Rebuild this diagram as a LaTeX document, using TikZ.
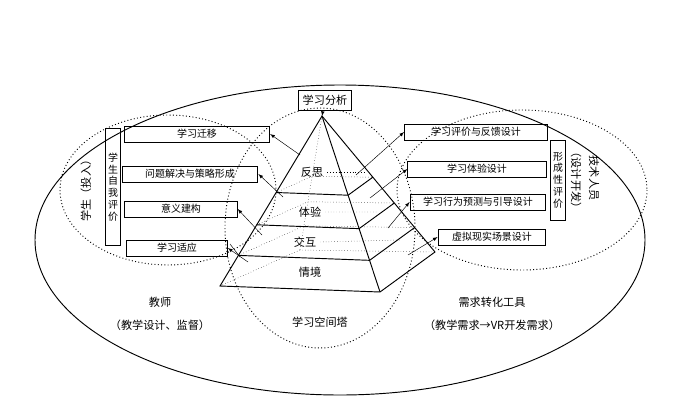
\documentclass[tikz,border=0pt]{standalone}
\usepackage{fontspec}
\setmainfont{Noto Sans CJK SC}
\usetikzlibrary{positioning,calc}
\tikzset{
        % boxes beside the tower
        stagebox/.style={draw, thick, inner sep=2pt, minimum height=0.48cm, font=\fontsize{8.5}{9}\selectfont},
        % vertical boxes
        evalbox/.style={draw, thick, align=center, inner sep=2pt, font=\fontsize{8.5}{10}\selectfont},
        % plain labels
        lbl/.style={font=\fontsize{9.5}{10}\selectfont, align=center},
        ring/.style={dotted, thick},
        pointer/.style={-latex}
}
\begin{document}
\begin{tikzpicture}[x=0.03cm, y=-0.03cm]
\useasboundingbox (0,0) rectangle (674,414);
% outer and dotted rings
\draw[thick] (340,240) ellipse [x radius=305, y radius=155];
\draw[ring] (168,190) ellipse [x radius=108, y radius=75];
\draw[ring] (522,190) ellipse [x radius=125, y radius=80];
\draw[ring] (320,228) ellipse [x radius=95, y radius=120];
% tower
\coordinate (apex) at (322,116);
\coordinate (fl) at (220,286);
\coordinate (fr) at (380,292);
\coordinate (br) at (435,252);
\coordinate (bl) at (300,250);
\draw[thick] (apex) -- (fl) -- (fr) -- (br) -- cycle;
\draw[thick] (apex) -- (fr);
\draw[dotted] (apex) -- (bl) (fl) -- (bl) -- (br);
\foreach \t in {0.45,0.64,0.82} {
  \draw[thick] ($(apex)!\t!(fl)$) -- ($(apex)!\t!(fr)$) -- ($(apex)!\t!(br)$);
  \draw[dotted] ($(apex)!\t!(fl)$) -- ($(apex)!\t!(bl)$) -- ($(apex)!\t!(br)$);
}
\node[lbl] (fansi) at (312,172) {反思};
\node[lbl] (tiyan) at (310,212) {体验};
\node[lbl] (jiaohu) at (305,242) {交互};
\node[lbl] (qingjing) at (310,272) {情境};
\node[draw, thick, lbl, minimum height=0.6cm] (fenxi) at (325,100) {学习分析};
\draw[pointer] (fenxi) -- (apex);
\node[lbl] (tower) at (320,322) {学习空间塔};
% left side
\node[stagebox] (qianyi) at (197,134) {\makebox[120pt]{学习迁移}};
\node[stagebox] (wenti) at (190,174) {\makebox[112pt]{问题解决与策略形成}};
\node[stagebox] (yiyi) at (181,209) {\makebox[92pt]{意义建构}};
\node[stagebox] (shiying) at (177,248) {\makebox[82pt]{学习适应}};
\node[evalbox, minimum height=3.5cm] (ziwo) at (113,187) {学\\生\\自\\我\\评\\价};
\node[lbl, rotate=90] (xuesheng) at (86,188) {学生（投入）};
\draw[pointer] (300,155) -- (qianyi.east);
\draw[pointer] (283,197) -- (wenti.east);
\draw[pointer] (262,235) -- (yiyi.east);
\draw[pointer] (248,262) -- (shiying.east);
\draw (240,257) -- (230,244);
% right side
\node[stagebox] (pingjia) at (476,132) {\makebox[118pt]{学习评价与反馈设计}};
\node[stagebox] (tiyansj) at (477,169) {\makebox[114pt]{学习体验设计}};
\node[stagebox] (xingwei) at (478,202) {\makebox[112pt]{学习行为预测与引导设计}};
\node[stagebox] (changjing) at (492,237) {\makebox[88pt]{虚拟现实场景设计}};
\node[evalbox, minimum height=2.4cm] (xingcheng) at (558,180) {形\\成\\性\\评\\价};
\node[lbl, rotate=-90] (jishu) at (594,178) {技术人员};
\node[lbl, rotate=-90] (sheji) at (576,180) {（设计开发）};
\draw[pointer] (356,175) -- (pingjia.west);
\draw[pointer] (370,198) -- (tiyansj.west);
\draw[pointer] (388,228) -- (xingwei.west);
\draw[pointer] (408,255) -- (changjing.west);
\draw[dotted] (fansi.east) -- (366,172);
\draw[dotted] (tiyan.east) -- (378,212) (jiaohu.east) -- (400,240);
% bottom labels
\node[lbl] (jiaoshi) at (160,302) {教师};
\node[lbl] (jiandu) at (160,325) {（教学设计、监督）};
\node[lbl] (gongju) at (492,302) {需求转化工具};
\node[lbl] (xuqiu) at (492,325) {（教学需求→VR开发需求）};
\end{tikzpicture}
\end{document}
